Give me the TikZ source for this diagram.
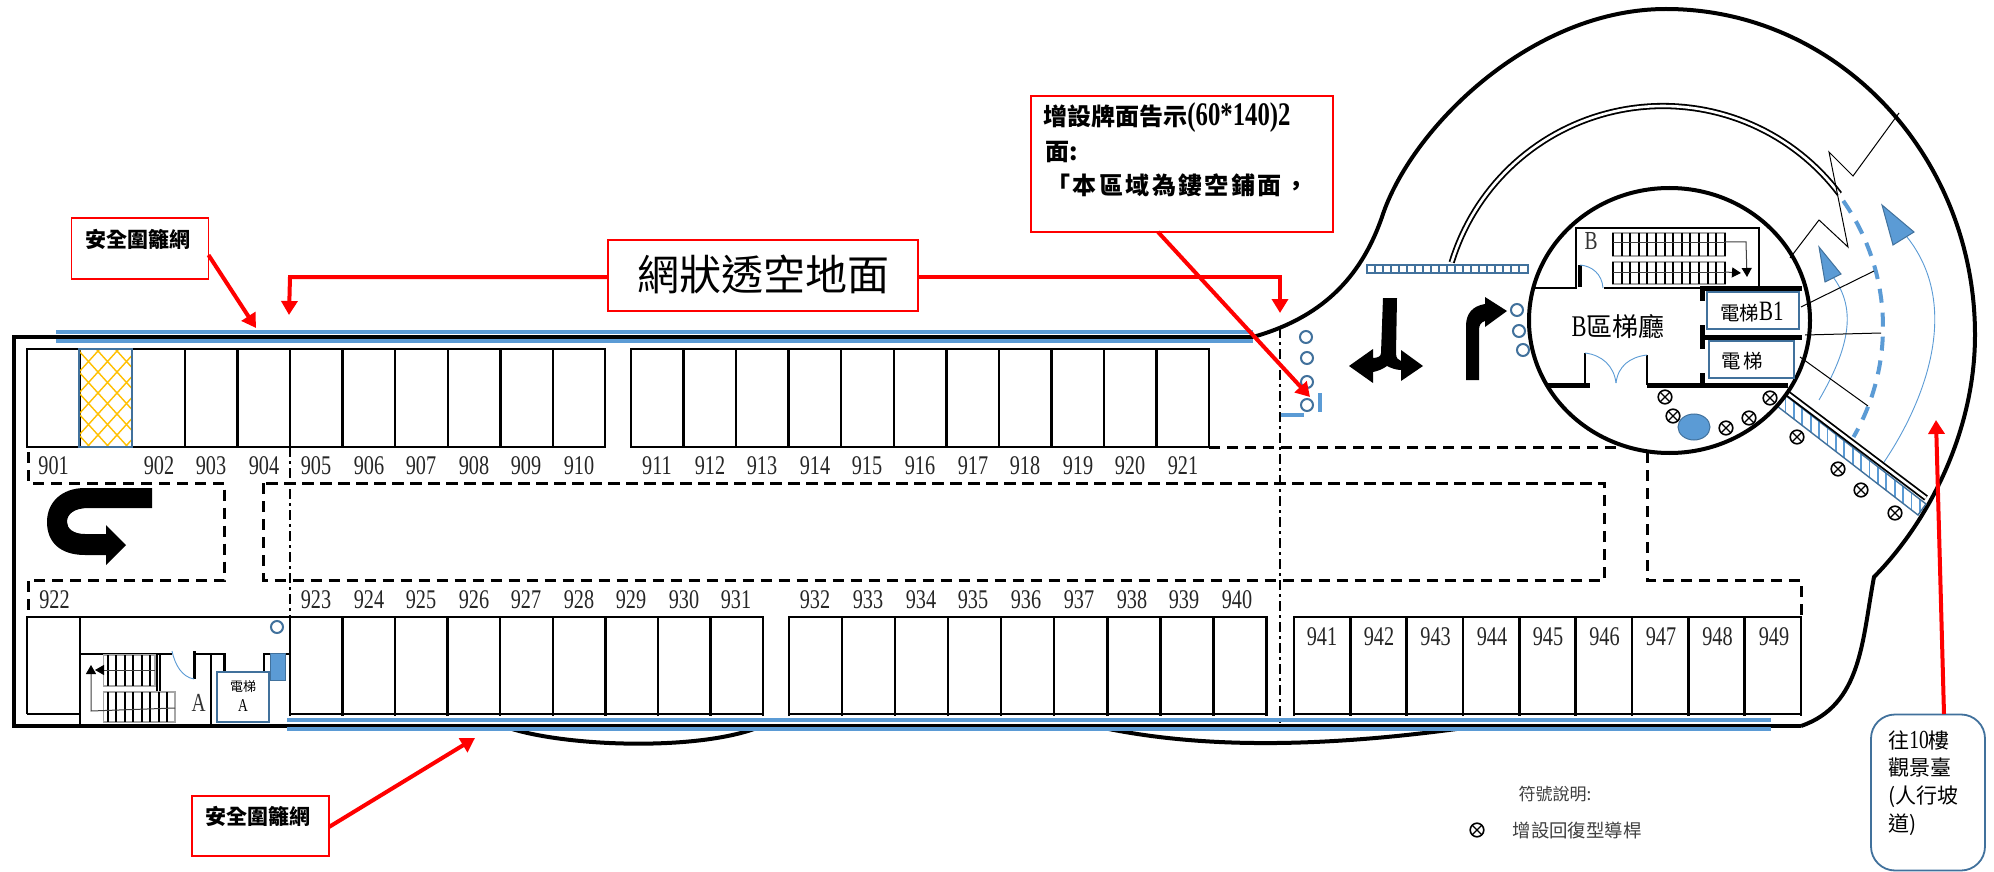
\documentclass[tikz,border=0pt]{standalone}
\usepackage{fontspec}
\usetikzlibrary{arrows.meta}
\setmainfont{Liberation Serif}
\newfontfamily\cjk{Noto Sans CJK TC}
\newfontfamily\cjkw[LetterSpace=10]{Noto Sans CJK TC}
\newfontfamily\numf[FakeStretch=0.75]{Liberation Serif}
\newcommand{\fsz}[1]{\fontsize{#1}{#1}\selectfont}
\definecolor{bl}{HTML}{5B9BD5}
\definecolor{bd}{HTML}{41719C}
\definecolor{lb}{HTML}{8DB8E2}
\definecolor{yl}{HTML}{FFC000}
\tikzset{
  wall/.style={line width=1.2pt,black},
  thick wall/.style={line width=2.5pt,black},
  outerline/.style={line width=2pt,black},
  dashline/.style={line width=1.5pt,black,dash pattern=on 5.7pt off 3.3pt},
  axisline/.style={line width=0.9pt,black,dash pattern=on 5pt off 2pt on 1.5pt off 2pt},
  bluefence/.style={line width=2pt,bl},
  redbox/.style={draw=red,line width=0.8pt,fill=white,inner sep=0pt},
  redarrow/.style={draw=red,line width=2pt,-{Triangle[length=7pt,width=8pt]}},
  numlab/.style={font=\numf\fsz{13.5},text=black!85,inner sep=0pt},
  boldlab/.style={font=\cjk\bfseries\fsz{10.5},inner sep=0pt},
  ring/.style={circle,draw=bd,line width=1pt,minimum size=6pt,inner sep=0pt},
  xmark/.style={circle,draw=black,line width=0.8pt,minimum size=6.8pt,inner sep=0pt,
    path picture={\draw[line width=0.6pt] (path picture bounding box.north west)--(path picture bounding box.south east)
      (path picture bounding box.north east)--(path picture bounding box.south west);}},
  liftbox/.style={draw=bd,line width=1pt,fill=white,inner sep=0pt},
  thinblue/.style={draw=bl,line width=0.45pt},
  thinline/.style={draw=black,line width=0.5pt},
  bluetri/.style={fill=bl,draw=bd,line width=0.5pt},
  stairbox/.style={draw=black!35,line width=0.8pt},
  tread/.style={draw=black,line width=1pt},
  flow/.style={draw=black!75,line width=0.5pt},
  flowtip/.style={draw=black!75,line width=0.5pt,-{Triangle[length=4.5pt,width=5pt,color=black]}},
}
\begin{document}
\begin{tikzpicture}[x=0.5pt,y=-0.5pt]
\useasboundingbox (0,0) rectangle (1994,872);
\fill[white] (0,0) rectangle (1994,872);

% --- outer building outline
\draw[outerline,line join=miter] (1253,337) -- (14,337) -- (14,726) -- (1801,726);
\draw[outerline] (1253,337) .. controls (1320,318) and (1360,280) .. (1382,217)
  .. controls (1410,130) and (1530,9) .. (1666,9)
  .. controls (1837,9) and (1975,155) .. (1975,335)
  .. controls (1975,430) and (1930,520) .. (1874,577)
  .. controls (1862,640) and (1862,705) .. (1801,726);
\draw[outerline] (503,726) .. controls (560,747) and (700,752) .. (762,726);
\draw[outerline] (1099,727) .. controls (1170,742) and (1280,754) .. (1471,727);

% --- parking rows: top
\foreach \a/\b in {27/605,631/1209}{\draw[wall] (\a,349) rectangle (\b,447);}
\foreach \i in {1,...,10}{\draw[wall] ({27+52.6*\i},349) -- ({27+52.6*\i},447);}
\foreach \i in {1,...,10}{\draw[wall] ({631+52.55*\i},349) -- ({631+52.55*\i},447);}
% lattice cell
\begin{scope}
\clip (79,349) rectangle (132,447);
\foreach \k in {-7,...,7}{
  \draw[yl,line width=0.7pt] ({3+19*\k},246) -- ++(190,210);
  \draw[yl,line width=0.7pt] ({193+19*\k},246) -- ++(-190,210);
}
\end{scope}
\draw[bd,line width=0.7pt] (79,349) rectangle (132,447);

% --- parking rows: bottom
\foreach \a/\b/\n/\p in {290/763/9/52.55,789/1266.5/9/53.05,1294/1801/9/56.33}{
  \draw[wall] (\a,716) -- (\a,617) -- (\b,617) -- (\b,716);
  \draw[wall] (\a,714) -- (\b,714);
  \foreach \i in {1,...,8}{\draw[wall] ({\a+\p*\i},617) -- ({\a+\p*\i},716);}
}
\draw[wall] (27,714) -- (27,617) -- (290,617);
\draw[wall] (27,714) -- (80,714);
\draw[wall] (80,617) -- (80,726);

% --- dashed driveways
\draw[dashline] (28,452) -- (28,483) -- (224.5,483) -- (224.5,580) -- (28,580) -- (28,617);
\draw[dashline] (263.5,483) rectangle (1604.5,580);
\draw[dashline] (1209,447) -- (1617,447);
\draw[dashline] (1647,452) -- (1647,580) -- (1801,580) -- (1801,617);
\draw[axisline] (290,447) -- (290,617);
\draw[axisline] (1280,328) -- (1280,723);

% --- fences
\foreach \y in {331.5,340.5}{\draw[bluefence] (56,\y) -- (1253,\y);}
\foreach \y in {720,729}{\draw[bluefence] (287,\y) -- (1771,\y);}

% --- stair room A
\draw[wall] (80,654) -- (172,654) (196,654) -- (224.5,654) -- (224.5,672);
\draw[wall] (210.7,654) -- (210.7,726);
\draw[wall] (264,672) -- (264,654) -- (290,654);
\draw[line width=1.5pt] (194,651) -- (194,679);
\draw[thinblue] (172,651) .. controls (175,665) and (182,677) .. (194,679);
\draw[wall,line width=1pt] (156.7,654) -- (156.7,692) (160,654) -- (160,692);
\foreach \a/\b/\c/\d/\m in {103.5/655/155/686/5,103.5/692/175/722/7}{
  \draw[stairbox] (\a,\b) rectangle (\c,\d);
  \foreach \i in {0,...,\m}{\draw[tread] ({108+8.45*\i},\b) -- ({108+8.45*\i},\d);}
}
\draw[flow] (103.5,670) -- (155,670);
\coordinate (aFlowA) at (175,708);
\coordinate (aFlowB) at (91,711);
\coordinate (aFlowC) at (91,665);
\coordinate (aFlowD) at (154,670);
\coordinate (aFlowE) at (95,670);
\draw[flowtip] (aFlowA) -- (aFlowB) -- (aFlowC);
\draw[flowtip] (aFlowD) -- (aFlowE);
\node[font=\numf\fsz{13},text=black!80,inner sep=0pt] (lblA) at (198.6,703) {A};
\node[liftbox,minimum width=26pt,minimum height=25pt] (liftA) at (243,697) {};
\node[font=\cjk\fsz{6.5},inner sep=0pt] (liftAa) at (243,687) {電梯};
\node[font=\numf\fsz{9},inner sep=0pt] (liftAb) at (243,706) {A};
\fill[bl,draw=bd,line width=0.5pt] (270.5,653) rectangle (285,680);
\node[ring] (rA) at (277,627) {};

% --- floor numbers
\foreach \t/\x in {901/53.6,902/159,903/211,904/264,905/316,906/369,907/421,908/474,909/526,910/579,911/657,912/710,913/762,914/815,915/867,916/920,917/973,918/1025,919/1078,920/1130,921/1183}{
  \node[numlab] (n\t) at (\x,466) {\t};}
\foreach \t/\x in {922/54.5,923/316,924/369,925/421,926/474,927/526,928/579,929/631,930/684,931/736,932/815,933/868,934/921,935/973,936/1026,937/1079,938/1132,939/1184,940/1237}{
  \node[numlab] (n\t) at (\x,600) {\t};}
\foreach \t/\x in {941/1322,942/1379,943/1435.6,944/1492,945/1548,946/1604.5,947/1661,948/1717.5,949/1774}{
  \node[numlab] (n\t) at (\x,637) {\t};}

% --- direction arrows
\fill[black] (152,488) -- (152,508) -- (89,508) .. controls (74,508) and (67,514) .. (67,522) .. controls (67,529) and (74,534) .. (85,534) -- (106,534) -- (106,525) -- (126,545) -- (106,565) -- (106,555) -- (85,555) .. controls (60,555) and (47,542) .. (47,522) .. controls (47,502) and (62,488) .. (85,488) -- cycle;
\fill[black] (1466,380) -- (1479,380) -- (1479,330) .. controls (1479,325) and (1481,322) .. (1485,321) -- (1485,327) -- (1507,311) -- (1485,297) -- (1485,304) .. controls (1473,306) and (1466,313) .. (1466,326) -- cycle;
\fill[black] (1383,298) -- (1397,298) -- (1396,353) .. controls (1396,358) and (1398,360) .. (1401,361) -- (1401,350) -- (1423,366) -- (1401,381) -- (1401,370) .. controls (1396,370) and (1391,368) .. (1387,366) .. controls (1383,369) and (1378,371) .. (1373,372) -- (1373,383) -- (1349,366) -- (1373,349) -- (1373,358) .. controls (1378,358) and (1381,356) .. (1381,353) -- cycle;

% --- rings, bars
\foreach \n/\x/\y in {1/1306/337,2/1307/358,3/1307/382,5/1517/310,6/1519/331,7/1523/350}{\node[ring] (r\n) at (\x,\y) {};}
\node[ring] (r4) at (1307,405) {};
\draw[bl,line width=2pt] (1320,393) -- (1320,412);
\draw[bl,line width=1.8pt] (1281,415) -- (1304,415);

% --- blue slotted bar
\draw[bd,line width=0.9pt] (1367,265) rectangle (1528,273);
\foreach \i in {1,...,19}{\draw[bd,line width=0.7pt] ({1367+8*\i},265) -- ({1367+8*\i},273);}

% --- ramp
\draw[black,line width=0.9pt,double=white,double distance=1.3pt] plot[domain=-163:-37,samples=70] ({1663+221*cos(\x)},{327+221*sin(\x)});
\draw[bl,line width=2pt,dash pattern=on 7pt off 5pt] plot[domain=-35:30,samples=50] ({1663+220*cos(\x)},{327+220*sin(\x)});
\draw[thinblue] (1819,400) .. controls (1848,350) and (1858,310) .. (1833,277);
\draw[thinblue] (1882,465) .. controls (1920,410) and (1965,310) .. (1907,237);
\draw[bluetri] (1819,247) -- (1841,274) -- (1825,282) -- cycle;
\draw[bluetri] (1882,205) -- (1914,232) -- (1893,245) -- cycle;
\draw[thinline] (1899,113) -- (1853,176) -- (1829,152) -- (1848,247) -- (1819,220) -- (1790,258);
\draw[thinline] (1801,307) -- (1874,271);
\draw[thinline] (1805,335) -- (1881,333);
\draw[thinline] (1800,357) -- (1868,406);
\begin{scope}
\clip (1785,395) -- (1777,406) -- (1918,515) -- (1926,504) -- cycle;
\foreach \i in {0,...,18}{\draw[bl,line width=0.9pt] ({1777+8.4*\i},380) -- ({1777+8.4*\i},530);}
\end{scope}
\draw[bd,line width=0.7pt] (1785,395) -- (1777,406) -- (1918,515) -- (1926,504) -- cycle;
\draw[black,line width=0.9pt,double=white,double distance=1.3pt] (1787,393) -- (1926,498);

% --- lobby circle
\draw[outerline] (1669.5,320.5) ellipse [x radius=140.5,y radius=132.5];
\draw[wall] (1535,288) -- (1576,288) -- (1576,228) -- (1759,228) -- (1759,288);
\draw[wall] (1604,288) -- (1700,288);
\draw[line width=1.7pt] (1580,265) -- (1580,287);
\draw[thinblue] (1580,265) .. controls (1592,266) and (1602,274) .. (1603,288);
\foreach \b/\d in {233/256,262/284}{
  \draw[stairbox] (1613,\b) rectangle (1725,\d);
  \foreach \i in {0,...,13}{\draw[tread] ({1613+8.6*\i},\b) -- ({1613+8.6*\i},\d);}
}
\draw[flow] (1613,243) -- (1725,243);
\draw[flow] (1613,272) -- (1725,272);
\coordinate (bFlowA) at (1725,242);
\coordinate (bFlowB) at (1746,242);
\coordinate (bFlowC) at (1747,277);
\coordinate (bFlowD) at (1725,272);
\coordinate (bFlowE) at (1741,273);
\draw[flowtip] (bFlowA) -- (bFlowB) -- (bFlowC);
\draw[flowtip] (bFlowD) -- (bFlowE);
\draw[thick wall] (1700,288) -- (1802,288) (1700,337) -- (1802,337);
\draw[thick wall] (1547,385) -- (1590,385) (1647,385) -- (1788,385);
\draw[thick wall] (1702,288) -- (1702,301) (1702,325) -- (1702,349) (1702,373) -- (1702,385);
\draw[line width=1.2pt] (1585,353) -- (1585,385) (1647,355) -- (1647,385);
\draw[thinblue] (1585,353) .. controls (1602,355) and (1614,366) .. (1616,383);
\draw[thinblue] (1647,355) .. controls (1630,357) and (1618,366) .. (1616,383);
\node[font=\numf\fsz{13},text=black!80,inner sep=0pt] (lblB) at (1591,241) {B};
\node[inner sep=0pt,font=\cjk\fsz{13}] (lobby) at (1618,327) {{\numf\fsz{15}B}區梯廳};
\node[liftbox,minimum width=46pt,minimum height=18.5pt] (liftB) at (1753,310.5) {};
\node[inner sep=0pt,font=\cjk\fsz{9.7}] (liftBt) at (1752,312) {電梯{\numf\fsz{14}B1}};
\node[liftbox,minimum width=42.5pt,minimum height=18.5pt] (liftC) at (1751.5,359.5) {};
\node[inner sep=0pt,font=\cjk\fsz{9.7}] (liftCt) at (1742,361) {電\hspace{1pt}梯};
\fill[bl,draw=bd,line width=0.5pt] (1694,427) ellipse [x radius=16,y radius=13];
\foreach \n/\x/\y in {1/1665/397,2/1673/416,3/1726/428,4/1749/418,5/1770/398,6/1797/437,7/1838/469,8/1861/490,9/1895/513}{
  \node[xmark] (x\n) at (\x,\y) {};}

% --- annotation boxes
\node[redbox,minimum width=68.5pt,minimum height=30.5pt] (fenceTop) at (140,248.5) {};
\node[boldlab] (fenceTopT) at (137.5,239) {安全圍籬網};
\node[redbox,minimum width=68.5pt,minimum height=30pt] (fenceBot) at (260.5,826) {};
\node[boldlab] (fenceBotT) at (257.6,816) {安全圍籬網};
\node[redbox,minimum width=155pt,minimum height=35.5pt] (mesh) at (763,275.5) {};
\node[inner sep=0pt,font=\cjk\fsz{21}] (meshT) at (763,274) {網狀透空地面};
\node[redbox,minimum width=151pt,minimum height=68pt] (sign) at (1182,164) {};
\node[boldlab,anchor=west,font=\cjk\bfseries\fsz{12}] (signA) at (1043,118) {增設牌面告示{\numf\bfseries\fsz{16.5}(60*140)2}};
\node[boldlab,anchor=west,font=\cjk\bfseries\fsz{12}] (signB) at (1045,152) {面:};
\node[boldlab,anchor=west,font=\cjkw\bfseries\fsz{12}] (signC) at (1046,185) {「本區域為鏤空鋪面，};

\coordinate (tipA) at (256,328);
\coordinate (tipB) at (475,738);
\coordinate (tipC) at (1310,397);
\coordinate (tipD) at (1936,420);
\coordinate (fenceTopOut) at (208.5,255);
\coordinate (fenceBotOut) at (329,827);
\coordinate (signOut) at (1158,232);
\coordinate (meshL) at (608,277);
\coordinate (meshLc) at (290,277);
\coordinate (meshLt) at (289,315);
\coordinate (meshR) at (918,277);
\coordinate (meshRc) at (1280,277);
\coordinate (meshRt) at (1280,313);
\draw[redarrow] (fenceTopOut) -- (tipA);
\draw[redarrow] (fenceBotOut) -- (tipB);
\draw[redarrow] (signOut) -- (tipC);
\draw[redarrow,line join=miter] (meshL) -- (meshLc) -- (meshLt);
\draw[redarrow,line join=miter] (meshR) -- (meshRc) -- (meshRt);

% --- ramp callout
\node[draw=bd,line width=0.9pt,fill=white,rounded corners=12pt,minimum width=57pt,minimum height=78pt,inner sep=0pt] (callout) at (1928,792.5) {};
\coordinate (calloutOut) at (1944,714);
\draw[redarrow] (calloutOut) -- (tipD);
\node[anchor=west,inner sep=0pt,font=\cjk\fsz{10.5}] (cA) at (1888,740) {往{\numf\fsz{13}10}樓};
\node[anchor=west,inner sep=0pt,font=\cjk\fsz{10.5}] (cB) at (1888,768) {觀景臺};
\node[anchor=west,inner sep=0pt,font=\cjk\fsz{10.5}] (cC) at (1888,797) {(人行坡};
\node[anchor=west,inner sep=0pt,font=\cjk\fsz{10.5}] (cD) at (1888,825) {道)};

% --- legend
\node[inner sep=0pt,font=\cjk\fsz{8.5},text=black!75] (legT) at (1555,794) {符號說明:};
\node[xmark] (legX) at (1477,830) {};
\node[inner sep=0pt,font=\cjk\fsz{9.2},text=black!75] (legL) at (1577,830) {增設回復型導桿};
\end{tikzpicture}
\end{document}
